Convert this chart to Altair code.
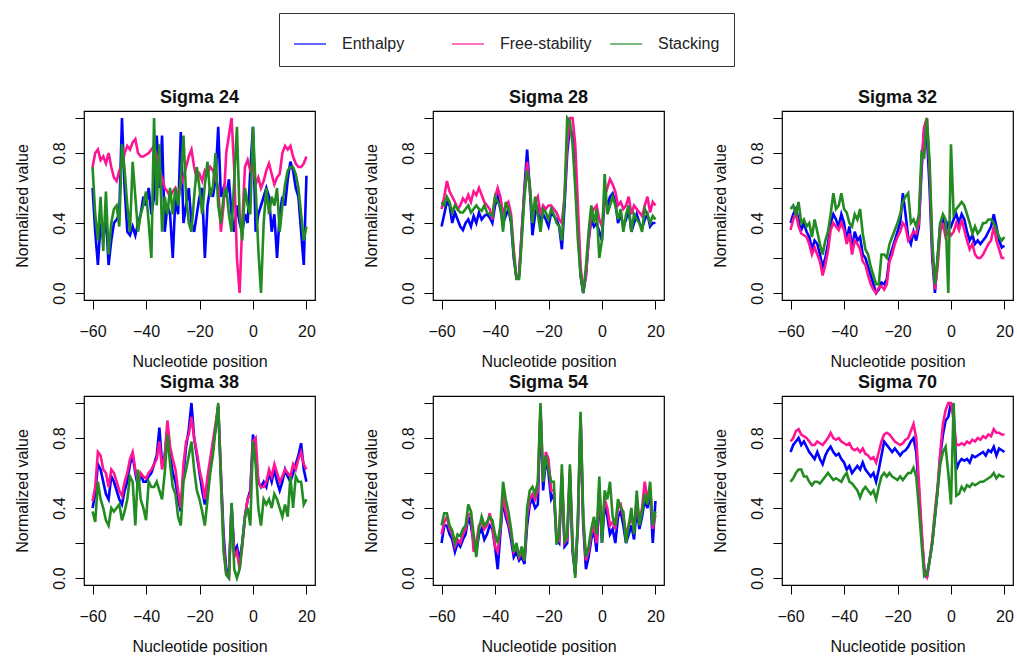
import altair as alt
import pandas as pd

positions = list(range(-60, 21))
series_names = ["Enthalpy", "Free-stability", "Stacking"]
series_colors = ["#0000FF", "#FF1493", "#228B22"]
panel_titles = ["Sigma 24", "Sigma 28", "Sigma 32", "Sigma 38", "Sigma 54", "Sigma 70"]
x_ticks = [-60, -40, -20, 0, 20]
y_ticks = [0.0, 0.2, 0.4, 0.6, 0.8, 1.0]

# ---------------- Sigma 24 ----------------
s24_enthalpy = [0.60, 0.35, 0.16, 0.40, 0.30, 0.45, 0.16, 0.30, 0.40, 0.42,
                0.45, 1.00, 0.60, 0.35, 0.33, 0.38, 0.33, 0.40, 0.45, 0.55,
                0.50, 0.60, 0.45, 0.55, 0.90, 0.60, 0.90, 0.35, 0.50, 0.45,
                0.20, 0.55, 0.45, 0.92, 0.40, 0.50, 0.60, 0.40, 0.35, 0.45,
                0.55, 0.60, 0.20, 0.50, 0.60, 0.55, 0.65, 0.95, 0.55, 0.60,
                0.55, 0.65, 0.45, 0.35, 0.50, 0.40, 0.35, 0.45, 0.40, 0.70,
                0.95, 0.35, 0.45, 0.50, 0.55, 0.60, 0.55, 0.35, 0.45, 0.20,
                0.45, 0.55, 0.50, 0.65, 0.75, 0.70, 0.60, 0.55, 0.35, 0.16, 0.67]
s24_free = [0.72, 0.80, 0.82, 0.76, 0.78, 0.74, 0.80, 0.72, 0.66, 0.64,
            0.70, 0.72, 0.80, 0.84, 0.82, 0.86, 0.88, 0.80, 0.78, 0.78,
            0.79, 0.80, 0.82, 0.84, 0.78, 0.70, 0.66, 0.60, 0.58, 0.55,
            0.58, 0.60, 0.56, 0.62, 0.66, 0.72, 0.78, 0.82, 0.72, 0.65,
            0.68, 0.64, 0.70, 0.68, 0.72, 0.70, 0.66, 0.60, 0.35, 0.50,
            0.80, 0.90, 1.00, 0.70, 0.20, 0.00, 0.40, 0.72, 0.76, 0.70,
            0.72, 0.62, 0.66, 0.60, 0.64, 0.70, 0.74, 0.68, 0.62, 0.66,
            0.68, 0.80, 0.84, 0.82, 0.84, 0.78, 0.74, 0.72, 0.72, 0.74, 0.78]
s24_stacking = [0.72, 0.45, 0.30, 0.55, 0.24, 0.58, 0.22, 0.40, 0.48, 0.50,
                0.38, 0.85, 0.70, 0.50, 0.35, 0.75, 0.55, 0.35, 0.45, 0.50,
                0.58, 0.40, 0.20, 1.00, 0.50, 0.85, 0.35, 0.55, 0.45, 0.60,
                0.45, 0.60, 0.50, 0.65, 0.90, 0.55, 0.40, 0.35, 0.55, 0.72,
                0.60, 0.45, 0.62, 0.75, 0.55, 0.60, 0.80, 0.50, 0.40, 0.55,
                0.60, 0.45, 0.35, 0.65, 0.95, 0.45, 0.30, 0.60, 0.50, 0.45,
                0.95, 0.60, 0.25, 0.00, 0.40, 0.60, 0.45, 0.55, 0.50, 0.60,
                0.35, 0.50, 0.62, 0.70, 0.72, 0.72, 0.68, 0.60, 0.45, 0.30, 0.38]

# ---------------- Sigma 28 ----------------
s28_enthalpy = [0.38, 0.45, 0.52, 0.50, 0.40, 0.46, 0.42, 0.38, 0.36, 0.40,
                0.42, 0.38, 0.44, 0.40, 0.46, 0.42, 0.44, 0.45, 0.43, 0.40,
                0.50, 0.55, 0.48, 0.40, 0.44, 0.48, 0.40, 0.20, 0.09, 0.10,
                0.35, 0.60, 0.82, 0.60, 0.33, 0.45, 0.50, 0.40, 0.45, 0.42,
                0.38, 0.46, 0.44, 0.42, 0.38, 0.25, 0.50, 0.80, 0.95, 0.90,
                0.70, 0.40, 0.10, 0.00, 0.10, 0.30, 0.42, 0.38, 0.40, 0.35,
                0.30, 0.55, 0.50, 0.55, 0.57, 0.52, 0.40, 0.45, 0.38, 0.42,
                0.48, 0.35, 0.40, 0.45, 0.40, 0.37, 0.42, 0.45, 0.38, 0.40, 0.40]
s28_free = [0.48, 0.55, 0.64, 0.58, 0.55, 0.52, 0.48, 0.50, 0.54, 0.52,
            0.56, 0.52, 0.58, 0.56, 0.60, 0.56, 0.52, 0.50, 0.48, 0.42,
            0.55, 0.60, 0.55, 0.45, 0.50, 0.52, 0.45, 0.25, 0.09, 0.10,
            0.35, 0.58, 0.75, 0.60, 0.42, 0.52, 0.55, 0.45, 0.50, 0.48,
            0.50, 0.50, 0.48, 0.46, 0.42, 0.40, 0.55, 0.85, 1.00, 1.00,
            0.85, 0.50, 0.15, 0.01, 0.10, 0.30, 0.45, 0.48, 0.50, 0.42,
            0.38, 0.55, 0.60, 0.65, 0.62, 0.58, 0.50, 0.52, 0.48, 0.50,
            0.55, 0.45, 0.50, 0.48, 0.46, 0.44, 0.50, 0.55, 0.46, 0.52, 0.50]
s28_stacking = [0.52, 0.50, 0.55, 0.52, 0.46, 0.50, 0.48, 0.46, 0.46, 0.48,
                0.50, 0.46, 0.48, 0.50, 0.48, 0.47, 0.50, 0.46, 0.45, 0.44,
                0.55, 0.52, 0.50, 0.35, 0.52, 0.48, 0.42, 0.22, 0.08, 0.08,
                0.30, 0.55, 0.70, 0.62, 0.40, 0.55, 0.45, 0.35, 0.48, 0.46,
                0.42, 0.48, 0.45, 0.40, 0.38, 0.30, 0.55, 1.00, 0.98, 0.85,
                0.60, 0.30, 0.10, 0.00, 0.15, 0.35, 0.50, 0.40, 0.48, 0.20,
                0.30, 0.68, 0.45, 0.50, 0.55, 0.50, 0.42, 0.48, 0.35, 0.45,
                0.50, 0.35, 0.45, 0.42, 0.40, 0.35, 0.48, 0.45, 0.40, 0.44, 0.42]

# ---------------- Sigma 32 ----------------
s32_enthalpy = [0.40, 0.45, 0.48, 0.42, 0.36, 0.40, 0.35, 0.32, 0.25, 0.30,
                0.28, 0.22, 0.15, 0.20, 0.28, 0.40, 0.45, 0.42, 0.38, 0.45,
                0.40, 0.30, 0.38, 0.25, 0.35, 0.30, 0.32, 0.22, 0.20, 0.15,
                0.10, 0.05, 0.00, 0.02, 0.06, 0.05, 0.08, 0.20, 0.25, 0.30,
                0.35, 0.40, 0.57, 0.45, 0.32, 0.28, 0.35, 0.30, 0.38, 0.70,
                0.95, 0.90, 0.60, 0.20, 0.00, 0.20, 0.40, 0.42, 0.35, 0.40,
                0.38, 0.42, 0.45, 0.40, 0.45, 0.42, 0.35, 0.30, 0.33, 0.28,
                0.30, 0.28, 0.30, 0.32, 0.35, 0.38, 0.45, 0.38, 0.30, 0.26, 0.27]
s32_free = [0.36, 0.42, 0.46, 0.38, 0.34, 0.33, 0.32, 0.28, 0.22, 0.26,
            0.22, 0.18, 0.10, 0.16, 0.24, 0.36, 0.40, 0.38, 0.36, 0.40,
            0.36, 0.28, 0.34, 0.22, 0.30, 0.28, 0.25, 0.18, 0.16, 0.10,
            0.05, 0.02, 0.00, 0.03, 0.04, 0.02, 0.05, 0.18, 0.22, 0.28,
            0.32, 0.35, 0.40, 0.38, 0.30, 0.32, 0.35, 0.34, 0.40, 0.75,
            0.95, 1.00, 0.70, 0.25, 0.02, 0.15, 0.35, 0.40, 0.32, 0.35,
            0.33, 0.35, 0.40, 0.36, 0.42, 0.36, 0.30, 0.25, 0.28, 0.22,
            0.20, 0.20, 0.22, 0.25, 0.28, 0.30, 0.38, 0.30, 0.25, 0.20, 0.20]
s32_stacking = [0.48, 0.50, 0.45, 0.52, 0.40, 0.42, 0.38, 0.40, 0.32, 0.42,
                0.35, 0.28, 0.22, 0.30, 0.35, 0.45, 0.57, 0.48, 0.50, 0.57,
                0.48, 0.46, 0.40, 0.38, 0.45, 0.42, 0.48, 0.34, 0.25, 0.22,
                0.15, 0.10, 0.05, 0.05, 0.22, 0.22, 0.20, 0.28, 0.32, 0.36,
                0.40, 0.45, 0.52, 0.55, 0.57, 0.40, 0.42, 0.38, 0.45, 0.80,
                0.78, 1.00, 0.75, 0.30, 0.05, 0.20, 0.40, 0.45, 0.42, 0.00,
                0.85, 0.45, 0.48, 0.50, 0.52, 0.50, 0.45, 0.40, 0.34, 0.38,
                0.34, 0.36, 0.40, 0.40, 0.42, 0.42, 0.40, 0.36, 0.32, 0.30, 0.32]

# ---------------- Sigma 38 ----------------
s38_enthalpy = [0.40, 0.48, 0.65, 0.62, 0.55, 0.48, 0.45, 0.58, 0.55, 0.50,
                0.45, 0.42, 0.50, 0.55, 0.65, 0.70, 0.60, 0.52, 0.60, 0.55,
                0.55, 0.58, 0.60, 0.65, 0.70, 0.86, 0.65, 0.70, 0.85, 0.70,
                0.60, 0.55, 0.45, 0.38, 0.60, 0.75, 0.85, 1.00, 0.80, 0.70,
                0.60, 0.50, 0.42, 0.55, 0.65, 0.75, 0.85, 0.98, 0.60, 0.25,
                0.05, 0.02, 0.42, 0.15, 0.18, 0.10, 0.20, 0.35, 0.45, 0.50,
                0.82, 0.72, 0.55, 0.52, 0.55, 0.52, 0.60, 0.55, 0.62, 0.55,
                0.50, 0.55, 0.62, 0.58, 0.55, 0.60, 0.65, 0.70, 0.77, 0.62, 0.55]
s38_free = [0.44, 0.52, 0.72, 0.70, 0.62, 0.60, 0.52, 0.62, 0.60, 0.55,
            0.50, 0.47, 0.55, 0.60, 0.68, 0.72, 0.62, 0.55, 0.60, 0.58,
            0.57, 0.60, 0.62, 0.65, 0.68, 0.78, 0.62, 0.70, 0.90, 0.75,
            0.68, 0.62, 0.50, 0.40, 0.65, 0.78, 0.82, 0.92, 0.80, 0.72,
            0.62, 0.55, 0.45, 0.58, 0.68, 0.78, 0.88, 0.98, 0.60, 0.20,
            0.02, 0.00, 0.40, 0.12, 0.15, 0.05, 0.18, 0.35, 0.45, 0.48,
            0.78, 0.80, 0.55, 0.52, 0.52, 0.55, 0.62, 0.58, 0.65, 0.60,
            0.55, 0.58, 0.62, 0.60, 0.58, 0.65, 0.62, 0.68, 0.72, 0.65, 0.62]
s38_stacking = [0.38, 0.32, 0.55, 0.45, 0.40, 0.33, 0.30, 0.40, 0.38, 0.40,
                0.42, 0.33, 0.38, 0.45, 0.58, 0.55, 0.30, 0.62, 0.45, 0.40,
                0.33, 0.55, 0.52, 0.52, 0.55, 0.50, 0.45, 0.60, 0.82, 0.65,
                0.52, 0.48, 0.35, 0.30, 0.55, 0.62, 0.70, 0.78, 0.62, 0.50,
                0.45, 0.38, 0.30, 0.45, 0.60, 0.70, 0.85, 1.00, 0.55, 0.15,
                0.02, 0.00, 0.43, 0.05, 0.00, 0.05, 0.20, 0.35, 0.40, 0.30,
                0.78, 0.65, 0.40, 0.30, 0.45, 0.42, 0.45, 0.40, 0.48, 0.45,
                0.40, 0.35, 0.42, 0.35, 0.58, 0.40, 0.58, 0.55, 0.55, 0.42, 0.45]

# ---------------- Sigma 54 ----------------
s54_enthalpy = [0.20, 0.30, 0.30, 0.25, 0.22, 0.15, 0.20, 0.18, 0.22, 0.25,
                0.35, 0.30, 0.20, 0.15, 0.25, 0.28, 0.22, 0.25, 0.30, 0.28,
                0.18, 0.05, 0.25, 0.45, 0.35, 0.30, 0.22, 0.12, 0.15, 0.10,
                0.12, 0.08, 0.30, 0.42, 0.45, 0.40, 0.42, 0.95, 0.50, 0.68,
                0.60, 0.45, 0.48, 0.22, 0.20, 0.58, 0.18, 0.20, 0.60, 0.15,
                0.02, 0.30, 0.92, 0.30, 0.05, 0.12, 0.22, 0.28, 0.15, 0.50,
                0.20, 0.42, 0.35, 0.25, 0.28, 0.20, 0.35, 0.38, 0.30, 0.20,
                0.25, 0.30, 0.22, 0.40, 0.28, 0.35, 0.45, 0.40, 0.50, 0.20, 0.44]
s54_free = [0.25, 0.32, 0.35, 0.28, 0.25, 0.18, 0.22, 0.20, 0.25, 0.28,
            0.36, 0.37, 0.15, 0.20, 0.30, 0.32, 0.28, 0.30, 0.37, 0.30,
            0.18, 0.15, 0.28, 0.48, 0.38, 0.32, 0.25, 0.15, 0.18, 0.12,
            0.15, 0.10, 0.35, 0.45, 0.48, 0.45, 0.50, 0.98, 0.55, 0.72,
            0.68, 0.50, 0.50, 0.25, 0.22, 0.60, 0.20, 0.22, 0.62, 0.18,
            0.02, 0.32, 0.93, 0.32, 0.10, 0.15, 0.25, 0.30, 0.20, 0.52,
            0.25, 0.45, 0.40, 0.30, 0.32, 0.28, 0.40, 0.42, 0.35, 0.25,
            0.30, 0.35, 0.28, 0.45, 0.32, 0.40, 0.55, 0.45, 0.52, 0.28, 0.36]
s54_stacking = [0.30, 0.37, 0.37, 0.30, 0.27, 0.20, 0.25, 0.24, 0.28, 0.30,
                0.42, 0.38, 0.25, 0.12, 0.28, 0.35, 0.30, 0.32, 0.35, 0.33,
                0.25, 0.20, 0.30, 0.55, 0.45, 0.38, 0.28, 0.15, 0.20, 0.12,
                0.18, 0.10, 0.40, 0.50, 0.52, 0.48, 0.55, 1.00, 0.55, 0.70,
                0.62, 0.55, 0.55, 0.19, 0.25, 0.65, 0.20, 0.25, 0.65, 0.20,
                0.00, 0.35, 0.95, 0.35, 0.12, 0.18, 0.28, 0.35, 0.25, 0.58,
                0.20, 0.50, 0.45, 0.55, 0.35, 0.30, 0.45, 0.40, 0.38, 0.20,
                0.30, 0.40, 0.25, 0.50, 0.30, 0.38, 0.48, 0.42, 0.55, 0.30, 0.38]

# ---------------- Sigma 70 ----------------
s70_enthalpy = [0.72, 0.76, 0.78, 0.80, 0.76, 0.78, 0.75, 0.72, 0.70, 0.68,
                0.72, 0.68, 0.65, 0.70, 0.73, 0.75, 0.72, 0.70, 0.71, 0.68,
                0.66, 0.62, 0.64, 0.60, 0.62, 0.64, 0.62, 0.66, 0.62, 0.60,
                0.58, 0.60, 0.55, 0.62, 0.70, 0.78, 0.76, 0.74, 0.72, 0.74,
                0.72, 0.70, 0.72, 0.73, 0.75, 0.78, 0.80, 0.72, 0.50, 0.25,
                0.05, 0.00, 0.10, 0.20, 0.35, 0.50, 0.70, 0.82, 0.90, 0.92,
                1.00, 0.95, 0.62, 0.66, 0.68, 0.67, 0.68, 0.66, 0.70, 0.69,
                0.70, 0.71, 0.72, 0.70, 0.73, 0.72, 0.75, 0.70, 0.74, 0.73, 0.72]
s70_free = [0.78, 0.80, 0.84, 0.85, 0.82, 0.81, 0.80, 0.78, 0.76, 0.76,
            0.78, 0.77, 0.76, 0.78, 0.80, 0.83, 0.80, 0.79, 0.80, 0.78,
            0.77, 0.76, 0.77, 0.74, 0.73, 0.74, 0.72, 0.74, 0.71, 0.70,
            0.68, 0.69, 0.66, 0.72, 0.78, 0.82, 0.83, 0.82, 0.80, 0.78,
            0.77, 0.76, 0.77, 0.79, 0.80, 0.84, 0.88, 0.80, 0.55, 0.28,
            0.05, 0.01, 0.10, 0.22, 0.38, 0.52, 0.72, 0.88, 0.96, 1.00,
            1.00, 0.90, 0.76, 0.76, 0.77, 0.76, 0.78, 0.77, 0.79, 0.78,
            0.80, 0.79, 0.81, 0.80, 0.82, 0.81, 0.85, 0.83, 0.83, 0.82, 0.82]
s70_stacking = [0.55, 0.57, 0.60, 0.62, 0.62, 0.58, 0.58, 0.55, 0.53, 0.55,
                0.55, 0.54, 0.56, 0.58, 0.60, 0.58, 0.56, 0.57, 0.56, 0.55,
                0.58, 0.60, 0.55, 0.54, 0.52, 0.50, 0.46, 0.50, 0.52, 0.50,
                0.48, 0.50, 0.45, 0.52, 0.58, 0.60, 0.58, 0.60, 0.58, 0.57,
                0.56, 0.58, 0.56, 0.58, 0.60, 0.60, 0.63, 0.58, 0.40, 0.20,
                0.01, 0.02, 0.10, 0.20, 0.35, 0.50, 0.65, 0.72, 0.75, 0.60,
                0.42, 1.00, 0.47, 0.48, 0.52, 0.50, 0.53, 0.52, 0.54, 0.53,
                0.54, 0.55, 0.55, 0.56, 0.57, 0.58, 0.60, 0.57, 0.59, 0.58, 0.58]

panel_data = [
    (s24_enthalpy, s24_free, s24_stacking),
    (s28_enthalpy, s28_free, s28_stacking),
    (s32_enthalpy, s32_free, s32_stacking),
    (s38_enthalpy, s38_free, s38_stacking),
    (s54_enthalpy, s54_free, s54_stacking),
    (s70_enthalpy, s70_free, s70_stacking),
]

FONT = "Liberation Sans"
y_label_expr = ("(abs(datum.value) < 0.001 || abs(datum.value - 0.4) < 0.001 || "
                "abs(datum.value - 0.8) < 0.001) ? format(datum.value, '.1f') : ''")


def make_panel(title, values):
    rows = []
    for name, vals in zip(series_names, values):
        for p, v in zip(positions, vals):
            rows.append({"pos": p, "series": name, "value": v})
    df = pd.DataFrame(rows)
    return alt.Chart(df, title=alt.Title(title)).mark_line(strokeWidth=2.6).encode(
        x=alt.X("pos:Q",
                scale=alt.Scale(domain=[-63.2, 23.2], nice=False, zero=False),
                axis=alt.Axis(values=x_ticks, title="Nucleotide position", format="d")),
        y=alt.Y("value:Q",
                scale=alt.Scale(domain=[-0.04, 1.04], nice=False, zero=False),
                axis=alt.Axis(values=y_ticks, labelExpr=y_label_expr,
                              title="Normalized value", labelAngle=-90,
                              labelAlign="center", labelBaseline="bottom")),
        color=alt.Color("series:N", sort=series_names,
                        scale=alt.Scale(domain=series_names, range=series_colors),
                        legend=alt.Legend(title=None, orient="none", direction="horizontal",
                                          legendX=195, legendY=-98, columns=3,
                                          gridAlign="all", symbolType="stroke",
                                          symbolSize=1024, symbolStrokeWidth=2,
                                          symbolOpacity=0.6,
                                          labelFontSize=16, labelFont=FONT,
                                          labelColor="#222222", labelOffset=15,
                                          columnPadding=14, padding=14,
                                          strokeColor="#333333", fillColor="white")),
        order=alt.Order("series:N"),
    ).properties(width=231, height=189)


panels = [make_panel(t, d) for t, d in zip(panel_titles, panel_data)]

chart = alt.concat(*panels, columns=3, spacing={"row": 96, "column": 118},
                   bounds="flush").properties(
    padding={"left": 13, "top": 12, "right": 0, "bottom": 0},
    background="white",
).configure_view(stroke="black", strokeWidth=1.2).configure_axis(
    grid=False, domain=False, tickColor="black", tickSize=9, tickWidth=1,
    labelColor="#111111", titleColor="#111111", labelFont=FONT, titleFont=FONT,
    labelFontSize=16, titleFontSize=16, titleFontWeight="normal",
).configure_axisX(labelPadding=14, titlePadding=14).configure_axisY(
    labelPadding=8, titlePadding=21
).configure_title(font=FONT, fontSize=18, fontWeight="bold", offset=0, color="#111111")

chart.save("out.html", embed_options={"renderer": "svg", "actions": False})
